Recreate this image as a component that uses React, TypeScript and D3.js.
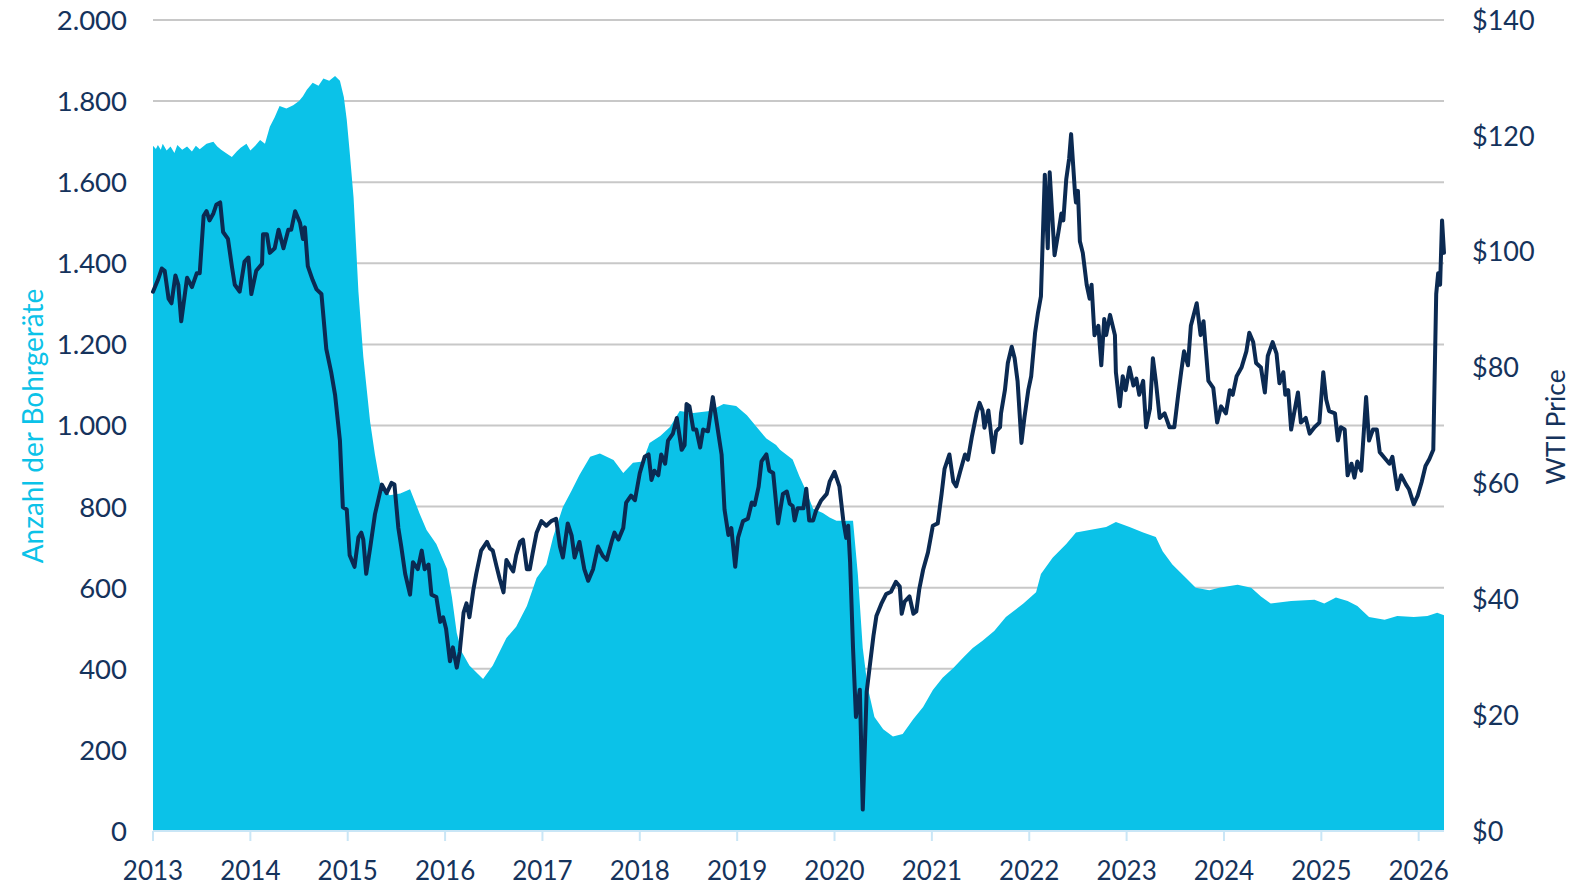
import React from "react";
import * as d3 from "d3";

const rigYears = [2013.0,2013.03,2013.05,2013.08,2013.1,2013.14,2013.18,2013.22,2013.25,2013.3,2013.35,2013.4,2013.44,2013.48,2013.55,2013.62,2013.66,2013.7,2013.76,2013.81,2013.86,2013.9,2013.96,2014.0,2014.05,2014.1,2014.15,2014.2,2014.25,2014.3,2014.37,2014.44,2014.5,2014.54,2014.58,2014.64,2014.7,2014.75,2014.81,2014.87,2014.92,2014.96,2014.99,2015.02,2015.06,2015.11,2015.16,2015.23,2015.28,2015.33,2015.43,2015.54,2015.64,2015.74,2015.81,2015.91,2016.02,2016.07,2016.12,2016.17,2016.25,2016.39,2016.49,2016.56,2016.63,2016.73,2016.84,2016.94,2017.04,2017.11,2017.21,2017.3,2017.38,2017.49,2017.59,2017.73,2017.83,2017.93,2018.03,2018.1,2018.21,2018.31,2018.41,2018.55,2018.72,2018.86,2018.99,2019.1,2019.2,2019.3,2019.4,2019.44,2019.57,2019.64,2019.71,2019.78,2019.88,2019.95,2020.02,2020.12,2020.19,2020.24,2020.29,2020.34,2020.41,2020.5,2020.6,2020.7,2020.81,2020.91,2021.01,2021.11,2021.22,2021.32,2021.42,2021.52,2021.64,2021.76,2021.94,2022.07,2022.12,2022.24,2022.38,2022.48,2022.62,2022.79,2022.89,2023.03,2023.17,2023.3,2023.37,2023.47,2023.61,2023.71,2023.85,2023.95,2024.14,2024.28,2024.38,2024.48,2024.69,2024.93,2025.03,2025.15,2025.27,2025.37,2025.49,2025.65,2025.78,2025.95,2026.09,2026.19,2026.26];
const rigCounts = [1690,1682,1692,1680,1695,1678,1688,1672,1692,1680,1688,1676,1690,1681,1695,1700,1688,1680,1670,1662,1676,1685,1695,1678,1690,1704,1695,1737,1760,1788,1782,1790,1800,1812,1828,1845,1838,1856,1850,1862,1850,1810,1754,1675,1562,1330,1170,1009,928,860,828,832,843,782,742,708,646,577,488,442,408,375,408,442,476,504,555,624,657,725,799,840,878,923,931,915,883,908,911,957,974,996,1036,1031,1036,1053,1048,1025,996,968,952,940,916,874,838,795,784,773,765,765,765,632,451,355,281,251,233,239,276,306,348,378,402,427,451,469,493,528,561,589,634,674,708,736,742,750,762,750,736,725,690,657,624,600,594,600,607,600,578,561,567,570,561,576,567,555,528,521,530,528,530,538,532];

const priceYears = [2013.0,2013.05,2013.09,2013.12,2013.16,2013.19,2013.23,2013.26,2013.29,2013.35,2013.4,2013.45,2013.48,2013.52,2013.55,2013.58,2013.62,2013.65,2013.69,2013.72,2013.77,2013.81,2013.84,2013.89,2013.94,2013.98,2014.01,2014.06,2014.12,2014.13,2014.17,2014.2,2014.25,2014.29,2014.34,2014.39,2014.42,2014.46,2014.51,2014.54,2014.56,2014.59,2014.64,2014.68,2014.73,2014.78,2014.83,2014.87,2014.92,2014.95,2014.99,2015.02,2015.07,2015.11,2015.14,2015.16,2015.19,2015.23,2015.28,2015.35,2015.4,2015.45,2015.48,2015.52,2015.55,2015.59,2015.64,2015.67,2015.72,2015.76,2015.79,2015.83,2015.86,2015.91,2015.95,2015.98,2016.01,2016.05,2016.08,2016.12,2016.15,2016.19,2016.22,2016.25,2016.29,2016.32,2016.37,2016.43,2016.46,2016.49,2016.53,2016.56,2016.6,2016.63,2016.67,2016.7,2016.73,2016.77,2016.8,2016.84,2016.87,2016.9,2016.94,2016.99,2017.04,2017.09,2017.14,2017.18,2017.21,2017.26,2017.3,2017.33,2017.38,2017.43,2017.47,2017.52,2017.57,2017.62,2017.66,2017.71,2017.74,2017.78,2017.83,2017.86,2017.91,2017.95,2018.0,2018.05,2018.09,2018.12,2018.15,2018.19,2018.22,2018.26,2018.29,2018.34,2018.38,2018.43,2018.46,2018.48,2018.51,2018.55,2018.58,2018.62,2018.65,2018.7,2018.75,2018.79,2018.84,2018.87,2018.91,2018.94,2018.98,2019.01,2019.06,2019.11,2019.15,2019.18,2019.22,2019.25,2019.3,2019.33,2019.37,2019.42,2019.47,2019.51,2019.54,2019.57,2019.59,2019.62,2019.68,2019.71,2019.74,2019.78,2019.81,2019.86,2019.92,2019.95,2020.0,2020.05,2020.09,2020.12,2020.14,2020.16,2020.19,2020.22,2020.26,2020.29,2020.33,2020.36,2020.4,2020.43,2020.48,2020.53,2020.58,2020.63,2020.67,2020.69,2020.72,2020.77,2020.81,2020.84,2020.87,2020.91,2020.96,2021.01,2021.06,2021.1,2021.13,2021.18,2021.22,2021.25,2021.29,2021.34,2021.37,2021.41,2021.46,2021.49,2021.52,2021.54,2021.58,2021.63,2021.66,2021.7,2021.71,2021.75,2021.78,2021.82,2021.85,2021.88,2021.92,2021.95,2021.99,2022.02,2022.06,2022.09,2022.12,2022.16,2022.19,2022.21,2022.26,2022.3,2022.33,2022.35,2022.38,2022.41,2022.43,2022.47,2022.48,2022.5,2022.52,2022.55,2022.59,2022.62,2022.64,2022.67,2022.71,2022.74,2022.77,2022.79,2022.83,2022.88,2022.89,2022.93,2022.96,2022.99,2023.03,2023.07,2023.1,2023.13,2023.17,2023.2,2023.24,2023.27,2023.3,2023.34,2023.39,2023.44,2023.49,2023.53,2023.56,2023.59,2023.63,2023.66,2023.72,2023.76,2023.79,2023.84,2023.89,2023.93,2023.97,2024.02,2024.06,2024.09,2024.13,2024.18,2024.23,2024.26,2024.3,2024.33,2024.38,2024.42,2024.45,2024.5,2024.54,2024.57,2024.61,2024.63,2024.66,2024.69,2024.72,2024.76,2024.79,2024.84,2024.88,2024.93,2024.98,2025.02,2025.05,2025.08,2025.14,2025.17,2025.2,2025.24,2025.27,2025.31,2025.34,2025.37,2025.41,2025.46,2025.49,2025.53,2025.57,2025.6,2025.65,2025.7,2025.73,2025.78,2025.82,2025.87,2025.9,2025.95,2025.99,2026.03,2026.07,2026.11,2026.15,2026.18,2026.2,2026.22,2026.24,2026.26];
const prices = [93.1,95.1,97.1,96.7,91.9,91.1,95.9,94.3,88.0,95.5,93.9,96.3,96.3,106.2,107.0,105.4,106.6,108.1,108.5,103.4,102.2,97.5,94.3,93.1,98.3,99.0,92.7,96.7,97.9,103.0,103.0,99.8,100.6,103.8,100.6,103.8,103.8,107.0,105.0,102.2,104.2,97.5,95.1,93.5,92.7,83.2,79.2,75.3,67.4,55.9,55.5,47.6,45.6,50.7,51.5,50.3,44.4,48.8,54.7,59.8,58.3,60.1,59.8,52.3,49.1,44.4,40.8,46.4,45.2,48.4,45.2,46.0,40.8,40.4,36.1,36.9,34.9,29.3,31.7,28.2,30.9,37.7,39.3,36.9,41.6,44.4,48.4,49.9,48.8,48.4,45.6,43.6,41.2,46.8,45.6,44.8,47.6,49.9,50.3,45.2,45.2,48.0,51.5,53.5,52.7,53.5,53.9,49.1,47.2,53.1,51.0,47.2,49.9,45.2,43.2,45.2,49.1,47.5,46.8,49.9,51.5,50.3,52.3,56.7,57.9,57.1,61.8,64.6,65.0,60.6,62.2,61.4,65.0,63.4,67.4,68.6,71.3,65.8,66.6,73.7,73.3,69.3,69.3,66.2,69.3,69.0,74.9,70.5,65.0,55.5,51.1,52.3,45.6,50.7,53.5,53.9,56.7,56.3,59.4,63.8,65.0,62.2,61.8,53.1,58.2,58.6,56.5,56.1,53.6,55.7,55.7,59.1,53.6,53.6,55.3,57.0,58.2,60.3,62.0,59.5,53.6,50.6,52.7,46.4,31.6,19.7,24.4,3.7,24.0,28.2,33.7,37.1,39.2,40.9,41.3,43.0,42.2,37.5,39.6,40.5,37.5,37.9,41.7,45.1,48.1,52.7,53.1,58.2,62.5,65.0,60.3,59.5,62.0,65.0,64.1,68.0,72.2,73.9,72.6,69.6,72.6,65.4,69.0,69.7,72.1,76.1,80.8,83.6,81.6,77.7,67.0,71.3,76.1,78.5,86.0,89.5,92.3,113.3,100.6,113.7,99.4,103.4,106.6,105.4,112.5,116.1,120.3,110.1,108.5,110.5,101.8,99.8,94.3,91.9,94.3,85.6,87.2,80.4,88.4,85.6,89.1,85.6,79.2,73.3,78.5,76.1,80.0,76.9,78.1,75.3,77.7,69.7,72.9,81.6,77.7,71.3,72.1,69.7,69.7,75.3,79.2,82.8,80.4,87.2,91.1,85.6,88.0,77.7,76.5,70.5,73.3,72.1,76.1,75.3,78.5,80.0,82.8,86.0,84.4,80.8,80.0,75.7,82.0,84.4,82.4,77.3,79.2,75.3,76.1,69.3,72.1,75.7,70.5,71.3,68.6,69.7,70.5,79.2,74.5,72.5,72.1,67.4,69.7,69.3,61.4,63.4,61.0,63.8,62.2,74.9,67.4,69.3,69.3,65.4,64.4,63.4,64.6,59.0,61.4,59.8,59.0,56.4,57.9,60.2,63.0,64.2,65.8,92.7,96.3,94.3,105.4,99.8];

const yearTicks = [2013,2014,2015,2016,2017,2018,2019,2020,2021,2022,2023,2024,2025,2026];
const rigTicks = [0,200,400,600,800,1000,1200,1400,1600,1800,2000];
const priceTicks = [0,20,40,60,80,100,120,140];
const leftTitle = "Anzahl der Bohrgeräte";
const rightTitle = "WTI Price";

const W = 1583, H = 885;
const M = { left: 153, right: 1444, top: 20, bottom: 831 };
const NAVY = "#0b2a52";
const TEXT = "#15335c";
const CYAN = "#0bc2e8";
const FONT = "Lato, 'Open Sans', sans-serif";

const de = d3.formatLocale({ decimal: ",", thousands: ".", grouping: [3], currency: ["$", ""] });
const fmtRig = de.format(",");

export default function App() {
  const x = d3.scaleLinear().domain([2013, 2026.26]).range([M.left, M.right]);
  const yL = d3.scaleLinear().domain([0, 2000]).range([M.bottom, M.top]);
  const yR = d3.scaleLinear().domain([0, 140]).range([M.bottom, M.top]);

  const rigData = rigYears.map((yr, i) => ({ t: yr, v: rigCounts[i] }));
  const priceData = priceYears.map((yr, i) => ({ t: yr, v: prices[i] }));

  const area = d3.area<{ t: number; v: number }>()
    .x((d) => x(d.t)).y0(yL(0)).y1((d) => yL(d.v));
  const line = d3.line<{ t: number; v: number }>()
    .x((d) => x(d.t)).y((d) => yR(d.v));

  return (
    <svg width={W} height={H} style={{ position: "absolute", left: 0, top: 0, display: "block", background: "#fff" }}
      fontFamily={FONT}>
      {rigTicks.map((t) => (
        <line key={"g" + t} x1={M.left} x2={M.right} y1={yL(t)} y2={yL(t)} stroke="#c8c8c8" strokeWidth={2} />
      ))}
      <path d={area(rigData) || ""} fill={CYAN} />
      <line x1={M.left} x2={M.right} y1={M.bottom} y2={M.bottom} stroke="#c9e6f6" strokeWidth={2} />
      {yearTicks.map((t) => (
        <line key={"xt" + t} x1={x(t)} x2={x(t)} y1={M.bottom} y2={M.bottom + 10} stroke="#c9e6f6" strokeWidth={2} />
      ))}
      <path d={line(priceData) || ""} fill="none" stroke={NAVY} strokeWidth={4} strokeLinejoin="round" strokeLinecap="round" />
      {rigTicks.map((t) => (
        <text key={"l" + t} x={127} y={yL(t)} dy="0.36em" textAnchor="end" fontSize={27.5} fill={TEXT}>{fmtRig(t)}</text>
      ))}
      {priceTicks.map((t) => (
        <text key={"r" + t} x={1472} y={yR(t)} dy="0.36em" textAnchor="start" fontSize={27} fill={TEXT}>{"$" + t}</text>
      ))}
      {yearTicks.map((t) => (
        <text key={"x" + t} x={x(t)} y={880} textAnchor="middle" fontSize={26} fill={TEXT}>{String(t)}</text>
      ))}
      <text transform="translate(33,426) rotate(-90)" dy="0.35em" textAnchor="middle" fontSize={28} fill={CYAN}>{leftTitle}</text>
      <text transform="translate(1556,427) rotate(-90)" dy="0.35em" textAnchor="middle" fontSize={26.5} fill={TEXT}>{rightTitle}</text>
    </svg>
  );
}
